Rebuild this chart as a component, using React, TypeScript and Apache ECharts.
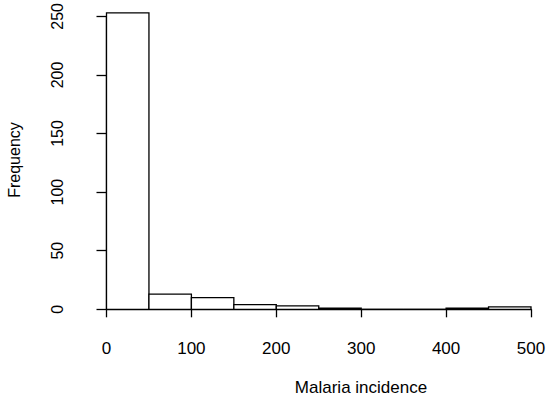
import React, { useEffect, useRef } from "react";
import * as echarts from "echarts";

const binStarts = [0, 50, 100, 150, 200, 250, 300, 350, 400, 450];
const binWidth = 50;
const counts = [253, 13, 10, 4, 3, 1, 0, 0, 1, 2];
const xTicks = [0, 100, 200, 300, 400, 500];
const yTicks = [0, 50, 100, 150, 200, 250];
const xTitle = "Malaria incidence";
const yTitle = "Frequency";

const FONT = "'Liberation Sans', Arial, sans-serif";

export default function App() {
  const ref = useRef<HTMLDivElement>(null);
  useEffect(() => {
    if (!ref.current) return;
    const chart = echarts.init(ref.current, null, { renderer: "svg" });
    const data = binStarts.map((s, i) => [s, s + binWidth, counts[i]]);
    chart.setOption({
      animation: false,
      backgroundColor: "#ffffff",
      grid: { left: 106.5, right: 19, top: 16, bottom: 92.7 },
      xAxis: {
        type: "value",
        min: xTicks[0],
        max: xTicks[xTicks.length - 1],
        interval: 100,
        offset: 13,
        splitLine: { show: false },
        axisLine: { show: true, lineStyle: { color: "#000", width: 1.3 } },
        axisTick: { show: true, length: 8, lineStyle: { color: "#000", width: 1.3 } },
        axisLabel: { color: "#000", fontSize: 17, fontFamily: FONT, margin: 18 },
      },
      yAxis: {
        type: "value",
        min: yTicks[0],
        max: yTicks[yTicks.length - 1],
        interval: 50,
        offset: 17.5,
        splitLine: { show: false },
        axisLine: { show: true, lineStyle: { color: "#000", width: 1.3 } },
        axisTick: { show: true, length: 10, lineStyle: { color: "#000", width: 1.3 } },
        axisLabel: { color: "#000", fontSize: 16, fontFamily: FONT, rotate: 90, margin: 24 },
      },
      graphic: [
        {
          type: "text",
          x: 361,
          y: 387,
          style: {
            text: xTitle,
            fontSize: 17,
            fontFamily: FONT,
            fill: "#000",
            align: "center",
            verticalAlign: "middle",
          },
        },
        {
          type: "text",
          x: 14,
          y: 160,
          rotation: Math.PI / 2,
          style: {
            text: yTitle,
            fontSize: 16,
            fontFamily: FONT,
            fill: "#000",
            align: "center",
            verticalAlign: "middle",
          },
        },
      ],
      series: [
        {
          type: "custom",
          clip: false,
          data,
          encode: { x: [0, 1], y: 2 },
          renderItem: (params: any, api: any) => {
            const x0 = api.value(0);
            const x1 = api.value(1);
            const c = api.value(2);
            const p0 = api.coord([x0, 0]);
            const p1 = api.coord([x1, c]);
            return {
              type: "rect",
              shape: { x: p0[0], y: p1[1], width: p1[0] - p0[0], height: p0[1] - p1[1] },
              style: { fill: "#ffffff", stroke: "#000", lineWidth: 1.3 },
            };
          },
        },
      ],
    });
    return () => chart.dispose();
  }, []);
  return (
    <div
      ref={ref}
      style={{ position: "fixed", left: 0, top: 0, width: 550, height: 402 }}
    />
  );
}
